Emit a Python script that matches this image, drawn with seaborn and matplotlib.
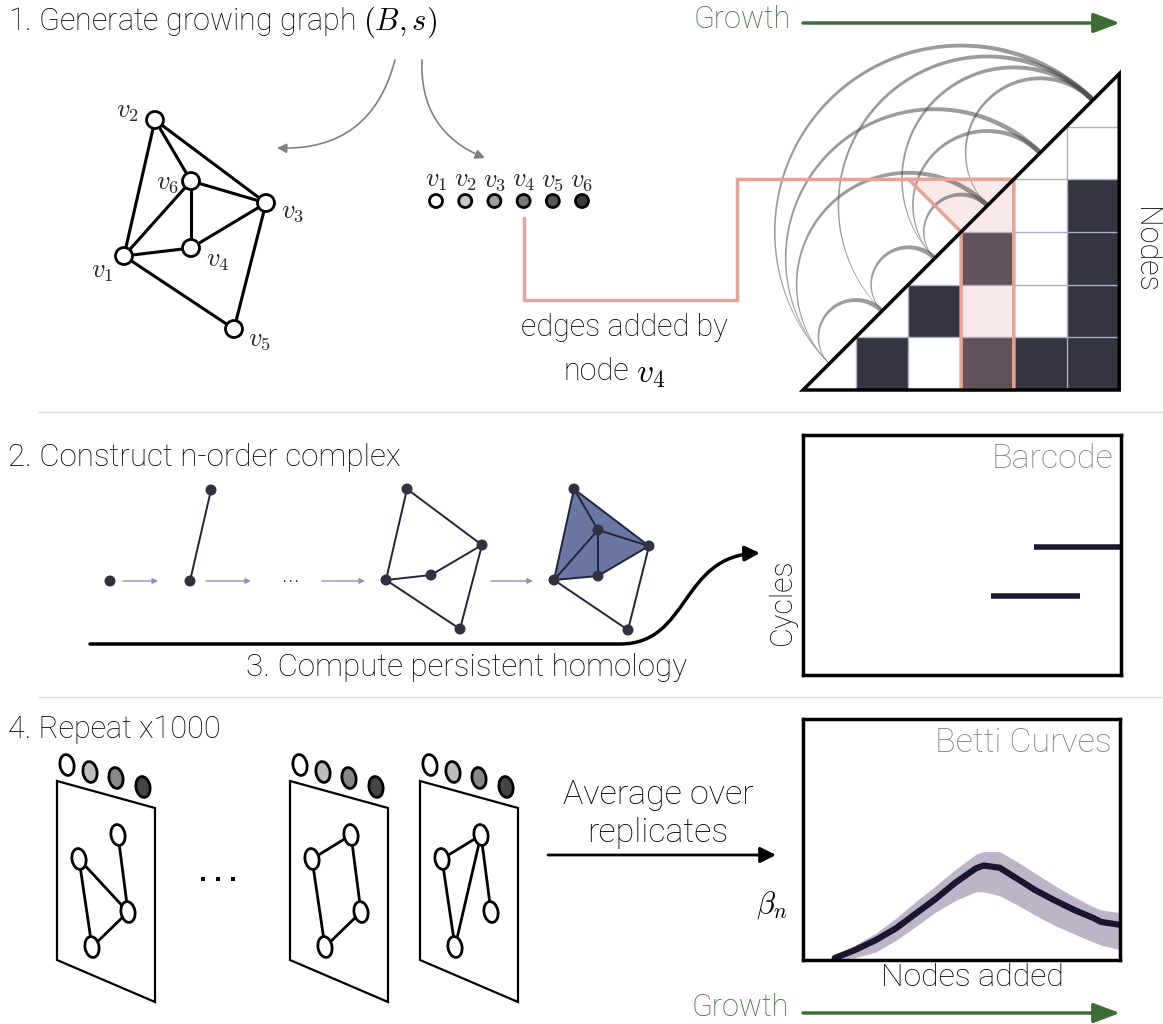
import numpy as np
import matplotlib
matplotlib.use('Agg')
import matplotlib.pyplot as plt
import seaborn as sns
from matplotlib.patches import Polygon, Rectangle, Circle, Ellipse, FancyArrowPatch
from matplotlib.path import Path

sns.set_style('white')
plt.rcParams['font.family'] = ['Roboto', 'DejaVu Sans']
plt.rcParams['font.weight'] = 'light'
plt.rcParams['mathtext.fontset'] = 'cm'

# ---------------- data ----------------
# graph of step 1 (v1..v6)
node_names = ['$v_1$', '$v_2$', '$v_3$', '$v_4$', '$v_5$', '$v_6$']
graph_edges = [(1, 2), (1, 4), (1, 5), (1, 6), (2, 3), (2, 6), (3, 4), (3, 5), (3, 6), (4, 6)]
node_shades = ['#ffffff', '#c6c6c6', '#9c9c9c', '#7a7a7a', '#585858', '#3a3a3a']
g1_x = [124, 155, 266, 191, 234, 191]
g1_y = [256, 120, 203, 248, 329, 181]
g1_lab_x = [102, 128, 293, 218, 260, 168]
g1_lab_y = [272, 112, 212, 261, 340, 183]

# cells filled in the upper triangular adjacency matrix (earlier node, later node)
matrix_cells = [(1, 2), (1, 4), (1, 5), (1, 6), (2, 3), (2, 6), (3, 4), (3, 6), (4, 6)]
highlight_node = 4

# step 2: growing complex, four stages
stage_nodes = [
    [(110, 581)],
    [(190, 581), (211, 490)],
    [(386, 580), (407, 489), (482, 545), (431, 575), (460, 629)],
    [(554, 580), (574, 489), (649, 546), (598, 576), (628, 630), (598, 530)],
]
stage_edges = [
    [],
    [(1, 2)],
    [(1, 2), (2, 3), (1, 4), (3, 4), (1, 5), (3, 5)],
    graph_edges,
]
stage_triangles = [(1, 2, 6), (2, 3, 6), (1, 4, 6), (3, 4, 6)]

# barcode (nodes added, 0..20)
bar_birth = [14.5, 11.8]
bar_death = [20.0, 17.4]
bar_cycle = [2, 1]

# betti curve (nodes added, beta_n)
betti_x = [2.0, 3.3, 4.6, 5.9, 7.1, 8.3, 9.6, 10.9, 11.4, 12.4, 13.5, 14.6, 15.8, 17.1, 18.3, 18.8, 20.0]
betti_mean = [0.08, 0.42, 0.83, 1.33, 1.92, 2.5, 3.2, 3.8, 3.92, 3.83, 3.38, 2.92, 2.5, 2.08, 1.75, 1.58, 1.46]
betti_upper = [0.12, 0.62, 1.12, 1.75, 2.42, 3.04, 3.75, 4.38, 4.5, 4.5, 4.08, 3.62, 3.12, 2.62, 2.21, 2.08, 1.96]
betti_lower = [0.0, 0.1, 0.33, 0.83, 1.38, 1.96, 2.46, 2.83, 2.83, 2.67, 2.29, 1.88, 1.46, 1.08, 0.75, 0.62, 0.42]

# step 4: replicate panes
pane_left = [57, 290, 420]
rep_layout = [(61, 54), (22, 78), (71, 131), (35, 166)]
rep_edges = [
    [(1, 2), (1, 3), (0, 2), (3, 2)],
    [(1, 0), (0, 2), (1, 3), (3, 2)],
    [(1, 0), (0, 2), (1, 3), (3, 0)],
]
rep_shades = ['#ffffff', '#bdbdbd', '#878787', '#454545']

# ---------------- figure ----------------
fig = plt.figure(figsize=(11.63, 10.24), dpi=100)
ax = fig.add_axes([0, 0, 1, 1])
ax.set_xlim(0, 1163)
ax.set_ylim(1024, 0)
ax.axis('off')

TXT = '#000000'
GREEN = '#3f6b37'
GRAY = '#808080'
DARK = '#343541'
PINK = '#e6a297'
DOT = '#30323f'


def arrow(p0, p1, color='k', lw=2, ms=20, style='-|>', **kw):
    a = FancyArrowPatch(p0, p1, arrowstyle=style, mutation_scale=ms, color=color,
                        lw=lw, shrinkA=0, shrinkB=0, **kw)
    ax.add_patch(a)


# separators
for yy in [412, 697]:
    ax.plot([38, 1163], [yy, yy], color='#dcdcdc', lw=1)

# ---- section 1 ----
ax.text(8, 22, '1. Generate growing graph $(B, s)$', fontsize=22, color=TXT, va='center')
for i, j in graph_edges:
    ax.plot([g1_x[i - 1], g1_x[j - 1]], [g1_y[i - 1], g1_y[j - 1]], color='k', lw=2.2, zorder=2)
for k in range(6):
    ax.add_patch(Circle((g1_x[k], g1_y[k]), 8.5, fc='white', ec='k', lw=2, zorder=3))
    ax.text(g1_lab_x[k], g1_lab_y[k], node_names[k], fontsize=19, ha='center', va='center')

arrow((395, 60), (277, 148), color=GRAY, lw=1.2, ms=14, connectionstyle='arc3,rad=-0.4')
arrow((422, 60), (485, 158), color=GRAY, lw=1.2, ms=14, connectionstyle='arc3,rad=0.35')

seq_x0, seq_dx, seq_y = 436, 29.2, 201
for k in range(6):
    ax.add_patch(Circle((seq_x0 + k * seq_dx, seq_y), 6.5, fc=node_shades[k], ec='k', lw=2, zorder=3))
    ax.text(seq_x0 + k * seq_dx, seq_y - 20, node_names[k], fontsize=19, ha='center', va='center')

hx = seq_x0 + (highlight_node - 1) * seq_dx
ax.plot([hx, hx, 737, 737, 907], [218, 300, 300, 179, 179], color=PINK, lw=2.5,
        solid_joinstyle='miter', zorder=4)
ax.text(624, 328, 'edges added by', fontsize=22, ha='center', va='center', color=TXT)
ax.text(629, 372, 'node', fontsize=22, ha='right', va='center', color=TXT)
ax.text(636, 374, node_names[highlight_node - 1], fontsize=24, ha='left', va='center', color=TXT)

# matrix triangle
mx0, my0, cell = 803, 390, 52.7
n = 6
for i, j in matrix_cells:
    ax.add_patch(Rectangle((mx0 + (j - 1) * cell, my0 - i * cell), cell, cell,
                           fc=DARK, ec='none', zorder=2))
for k in range(1, n):
    ax.plot([mx0 + k * cell] * 2, [my0, my0 - k * cell], color='#a9b0c6', lw=1, zorder=2.5)
    ax.plot([mx0 + k * cell, mx0 + n * cell], [my0 - k * cell] * 2, color='#a9b0c6', lw=1, zorder=2.5)

# highlighted column of the new node
hc = highlight_node - 1
pink_poly = [(mx0 + (hc - 1) * cell, my0 - (hc + 1) * cell), (mx0 + (hc + 1) * cell, my0 - (hc + 1) * cell),
             (mx0 + (hc + 1) * cell, my0), (mx0 + hc * cell, my0), (mx0 + hc * cell, my0 - hc * cell)]
ax.add_patch(Polygon(pink_poly, closed=True, fc='#e8a6a6', alpha=0.25, ec='none', zorder=3))
ax.add_patch(Polygon(pink_poly, closed=True, fc='none', ec=PINK, lw=2.5, zorder=4))

# arcs for each edge, semicircles above the diagonal, tapered toward the later node
u = np.array([1, -1]) / np.sqrt(2)
nv = np.array([-1, -1]) / np.sqrt(2)
pos = [np.array([mx0 + (k + 0.5) * cell, my0 - (k + 0.5) * cell]) for k in range(n)]
t = np.linspace(0, np.pi, 120)
for i, j in graph_edges:
    c = (pos[i - 1] + pos[j - 1]) / 2
    r = np.linalg.norm(pos[j - 1] - pos[i - 1]) / 2
    d = -np.cos(t)[:, None] * u + np.sin(t)[:, None] * nv
    w = np.linspace(0.4, 5.0, len(t))
    outer = c + (r + w[:, None] / 2) * d
    inner = c + (r - w[:, None] / 2) * d
    ax.add_patch(Polygon(np.vstack([outer, inner[::-1]]), closed=True,
                         fc='#4a4a4a', alpha=0.55, ec='none', zorder=3.5))

ax.add_patch(Polygon([(mx0, my0), (mx0 + n * cell, my0 - n * cell), (mx0 + n * cell, my0)],
                     closed=True, fc='none', ec='k', lw=2.5, joinstyle='miter', zorder=5))
ax.text(1145, 250, 'Nodes', fontsize=22, rotation=270, ha='center', va='center', color=TXT)

ax.text(693, 20, 'Growth', fontsize=22, color=GREEN, va='center')
arrow((803, 23), (1120, 23), color=GREEN, lw=2.5, ms=20, style='-|>,head_length=0.8,head_width=0.3')

# ---- section 2 ----
ax.text(8, 457, '2. Construct n-order complex', fontsize=22.5, color=TXT, va='center')
for tri in stage_triangles:
    ax.add_patch(Polygon([stage_nodes[3][v - 1] for v in tri], closed=True, fc='#6b77a3',
                         ec='none', zorder=1))
for s in range(4):
    nodes = stage_nodes[s]
    for i, j in stage_edges[s]:
        ax.plot([nodes[i - 1][0], nodes[j - 1][0]], [nodes[i - 1][1], nodes[j - 1][1]],
                color='#22243a', lw=1.4, zorder=2)
    for x, y in nodes:
        ax.add_patch(Circle((x, y), 5.5, fc=DOT, ec='none', zorder=3))
for x0, x1 in [(123, 158), (206, 251), (322, 365), (491, 533)]:
    arrow((x0, 581), (x1, 581), color='#8b94b6', lw=1, ms=8)
ax.text(291, 574, '...', fontsize=20, ha='center', va='center', color=TXT)

curve = Path([(90, 644), (620, 644), (690, 644), (680, 556), (760, 553)],
             [Path.MOVETO, Path.LINETO, Path.CURVE4, Path.CURVE4, Path.CURVE4])
ax.add_patch(FancyArrowPatch(path=curve, arrowstyle='-|>', mutation_scale=22, color='k', lw=2.5))
ax.text(466, 668, '3. Compute persistent homology', fontsize=22.5, ha='center', va='center', color=TXT)

H = 1024.0
W = 1163.0
bx = fig.add_axes([803 / W, 1 - 675 / H, 318 / W, 240 / H])
bx.hlines(bar_cycle, bar_birth, bar_death, color='#1d1930', lw=4)
bx.set_xlim(0, 20)
bx.set_ylim(-0.61, 4.29)
bx.set_xticks([])
bx.set_yticks([])
for sp in bx.spines.values():
    sp.set_linewidth(2.5)
    sp.set_color('k')
bx.text(0.975, 0.9, 'Barcode', transform=bx.transAxes, fontsize=24.5, color=GRAY, ha='right', va='center')
ax.text(782, 602, 'Cycles', fontsize=22, rotation=90, ha='center', va='center', color=TXT)

# ---- section 4 ----
ax.text(8, 730, '4. Repeat x1000', fontsize=22, color=TXT, va='center')
shade_off = [(10, -16), (33, -9), (59, -3), (86, 6)]
for p, x0 in enumerate(pane_left):
    y0 = 781
    ax.add_patch(Polygon([(x0, y0), (x0 + 98, y0 + 27), (x0 + 98, y0 + 221), (x0, y0 + 179)],
                         closed=True, fc='white', ec='k', lw=1.6, zorder=1))
    for k in range(4):
        ax.add_patch(Ellipse((x0 + shade_off[k][0], y0 + shade_off[k][1]), 14, 21, angle=-10,
                             fc=rep_shades[k], ec='k', lw=2, zorder=3))
    for i, j in rep_edges[p]:
        ax.plot([x0 + rep_layout[i][0], x0 + rep_layout[j][0]],
                [y0 + rep_layout[i][1], y0 + rep_layout[j][1]], color='k', lw=2, zorder=2)
    for rx, ry in rep_layout:
        ax.add_patch(Ellipse((x0 + rx, y0 + ry), 14, 21, angle=-10, fc='white', ec='k', lw=2, zorder=3))
for x in [203, 218, 233]:
    ax.add_patch(Rectangle((x - 2, 877), 4, 4, fc='k', ec='none'))

ax.text(658, 795, 'Average over', fontsize=24.5, ha='center', va='center', color=TXT)
ax.text(658, 833, 'replicates', fontsize=24.5, ha='center', va='center', color=TXT)
arrow((548, 855), (776, 855), color='k', lw=2, ms=24)

cx = fig.add_axes([803 / W, 1 - 960 / H, 317 / W, 241 / H])
cx.fill_between(betti_x, betti_lower, betti_upper, color='#bdb4c8', lw=0)
sns.lineplot(x=betti_x, y=betti_mean, ax=cx, color='#1b1630', lw=4.5)
cx.set_xlim(0, 20)
cx.set_ylim(0, 10)
cx.set_xticks([])
cx.set_yticks([])
cx.set_xlabel('')
cx.set_ylabel('')
for sp in cx.spines.values():
    sp.set_linewidth(2.5)
    sp.set_color('k')
cx.text(0.975, 0.9, 'Betti Curves', transform=cx.transAxes, fontsize=24.5, color=GRAY, ha='right', va='center')
ax.text(772, 905, r'$\beta_n$', fontsize=22, ha='center', va='center', color=TXT)
ax.text(972, 978, 'Nodes added', fontsize=23, ha='center', va='center', color=TXT)

ax.text(692, 1008, 'Growth', fontsize=22, color=GREEN, va='center')
arrow((803, 1013), (1120, 1013), color=GREEN, lw=2.5, ms=20, style='-|>,head_length=0.8,head_width=0.3')

fig.savefig('out.png', dpi=100)
